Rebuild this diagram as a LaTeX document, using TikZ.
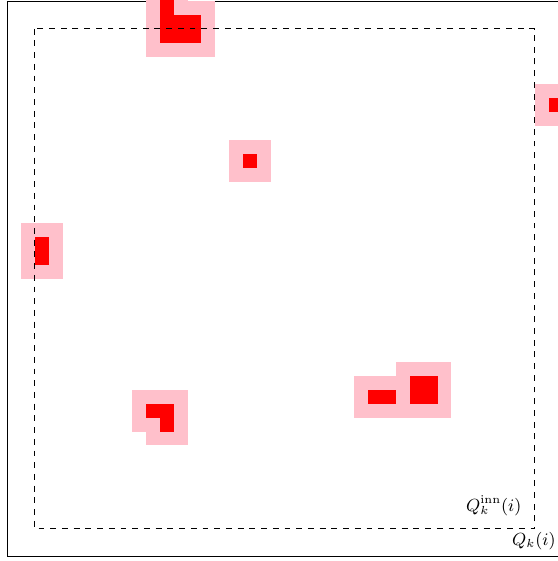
\documentclass[tikz,border=0pt]{standalone}
\definecolor{halo}{RGB}{255,192,203}
\definecolor{core}{RGB}{255,0,0}
\begin{document}
\begin{tikzpicture}[x=0.25cm,y=-0.25cm,
  halocell/.style={fill=halo},
  corecell/.style={fill=core},
  outerframe/.style={draw=black,line width=0.4pt},
  innerframe/.style={draw=black,dashed,line width=0.4pt},
  cornerlabel/.style={anchor=south east,font=\small}]
\clip (-0.504,-0.072) rectangle (39.67,40.32);
\draw[outerframe] (0,0) rectangle (40,40);
\def\cells{11/-1,11/0,11/1,12/1,13/1,11/2,12/2,13/2,17/11,2/17,2/18,39/7,10/29,11/29,11/30,26/28,27/28,29/27,30/27,29/28,30/28}
\foreach \u/\v in \cells {\fill[halocell] (\u-1,\v-1) rectangle ++(3,3);}
\foreach \u/\v in \cells {\fill[corecell] (\u,\v) rectangle ++(1,1);}
\draw[innerframe] (2,2) rectangle (38,38);
\coordinate (innc) at (38,38);
\coordinate (outc) at (40,40);
\node[cornerlabel,xshift=-3.3pt,yshift=3.3pt] (qinn) at (innc) {$Q_k^{\mathrm{inn}}(i)$};
\node[cornerlabel] (qk) at (outc) {$Q_k(i)$};
\end{tikzpicture}
\end{document}
